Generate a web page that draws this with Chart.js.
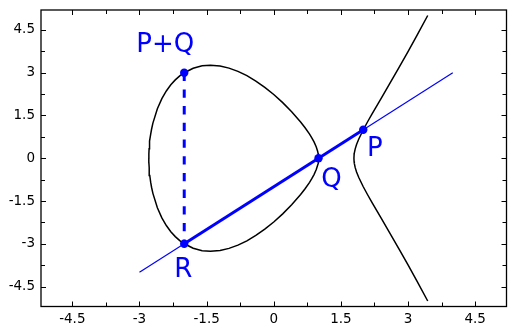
<!DOCTYPE html>
<html>
<head>
<meta charset="utf-8">
<script src="https://cdn.jsdelivr.net/npm/chart.js@4/dist/chart.umd.min.js"></script>
<style>
html,body{margin:0;padding:0;background:#fff;}
canvas{display:block;}
</style>
</head>
<body>
<canvas id="c" width="515" height="332"></canvas>
<script>
// Axis range and tick spacing
const axisMin = -5.2;
const axisMax = 5.2;
const tickStep = 0.75;
const labelStep = 1.5;

// Oval (closed component) of the curve
const ovalX     = [-2.7913, -2.79, -2.785, -2.78, -2.77, -2.75, -2.73, -2.7, -2.6, -2.5, -2.4, -2.3, -2.2, -2.1, -2.0, -1.8, -1.6, -1.414, -1.2, -1.0, -0.8, -0.6, -0.4, -0.2, 0.0, 0.2, 0.4, 0.6, 0.7, 0.8, 0.85, 0.9, 0.95, 0.98, 0.99, 0.995, 1.0];
const ovalUpper = [0, 0.150, 0.330, 0.442, 0.605, 0.838, 1.017, 1.232, 1.739, 2.092, 2.361, 2.575, 2.748, 2.888, 3.0, 3.157, 3.241, 3.265, 3.236, 3.162, 3.048, 2.896, 2.709, 2.488, 2.236, 1.951, 1.632, 1.271, 1.069, 0.844, 0.717, 0.574, 0.397, 0.247, 0.174, 0.122, 0];
const ovalLower = [0, -0.150, -0.330, -0.442, -0.605, -0.838, -1.017, -1.232, -1.739, -2.092, -2.361, -2.575, -2.748, -2.888, -3.0, -3.157, -3.241, -3.265, -3.236, -3.162, -3.048, -2.896, -2.709, -2.488, -2.236, -1.951, -1.632, -1.271, -1.069, -0.844, -0.717, -0.574, -0.397, -0.247, -0.174, -0.122, 0];

// Unbounded branch of the curve
const branchX     = [1.7913, 1.795, 1.8, 1.82, 1.85, 1.9, 2.0, 2.1, 2.2, 2.4, 2.6, 2.8, 3.0, 3.2, 3.44];
const branchUpper = [0, 0.116, 0.179, 0.330, 0.481, 0.677, 1.0, 1.289, 1.565, 2.103, 2.641, 3.186, 3.742, 4.309, 5.007];
const branchLower = [0, -0.116, -0.179, -0.330, -0.481, -0.677, -1.0, -1.289, -1.565, -2.103, -2.641, -3.186, -3.742, -4.309, -5.007];

// Secant line through P and Q
const lineX = [-3, 4];
const lineY = [-4, 3];
// Thick segment R -> P
const segX = [-2, 2];
const segY = [-3, 1];
// Dashed vertical from P+Q down to R
const dashX = [-2, -2];
const dashY = [3, -3];

// Marked points
const pointLabels = ['P', 'Q', 'R', 'P+Q'];
const pointX = [2, 1, -2, -2];
const pointY = [1, 0, -3, 3];
// label offsets in pixels (style)
const labelDX = [11.5, 13, -1, -19];
const labelDY = [26.5, 29, 33.5, -20.5];

function zip(xs, ys) { return xs.map((x, i) => ({x: x, y: ys[i]})); }

const ovalData = zip(ovalX, ovalUpper).concat(zip(ovalX.slice().reverse(), ovalLower.slice().reverse()));
const branchData = zip(branchX.slice().reverse(), branchUpper.slice().reverse()).concat(zip(branchX.slice(1), branchLower.slice(1)));

const frameAndTicks = {
  id: 'frameAndTicks',
  afterDraw(chart) {
    const ctx = chart.ctx;
    const a = chart.chartArea;
    const xs = chart.scales.x, ys = chart.scales.y;
    ctx.save();
    ctx.strokeStyle = '#000';
    ctx.lineWidth = 1;
    xs.ticks.forEach(t => {
      const px = Math.round(xs.getPixelForValue(t.value)) + 0.5;
      const major = Math.abs(Math.round(t.value / labelStep) * labelStep - t.value) < 1e-6;
      const len = major ? 5 : 4;
      ctx.beginPath();
      ctx.moveTo(px, a.bottom); ctx.lineTo(px, a.bottom - len);
      ctx.moveTo(px, a.top); ctx.lineTo(px, a.top + len);
      ctx.stroke();
    });
    ys.ticks.forEach(t => {
      const py = Math.round(ys.getPixelForValue(t.value)) + 0.5;
      const major = Math.abs(Math.round(t.value / labelStep) * labelStep - t.value) < 1e-6;
      const len = major ? 5 : 4;
      ctx.beginPath();
      ctx.moveTo(a.left, py); ctx.lineTo(a.left + len, py);
      ctx.moveTo(a.right, py); ctx.lineTo(a.right - len, py);
      ctx.stroke();
    });
    ctx.lineWidth = 1.3;
    ctx.strokeRect(a.left, a.top, a.right - a.left, a.bottom - a.top);
    // point labels
    ctx.fillStyle = '#0000ff';
    ctx.font = '26px "DejaVu Sans"';
    ctx.textAlign = 'center';
    ctx.textBaseline = 'alphabetic';
    pointLabels.forEach((lab, i) => {
      const px = xs.getPixelForValue(pointX[i]) + labelDX[i];
      const py = ys.getPixelForValue(pointY[i]) + labelDY[i];
      ctx.fillText(lab, px, py);
    });
    ctx.restore();
  }
};

function tickLabel(v) {
  const k = Math.round(v / labelStep);
  if (Math.abs(k * labelStep - v) > 1e-6) return '';
  const r = Math.round(v * 10) / 10;
  return String(r);
}

new Chart(document.getElementById('c'), {
  type: 'scatter',
  data: {
    datasets: [
      { data: zip(pointX, pointY), showLine: false, pointRadius: 4.2, pointBackgroundColor: '#0000ff', pointBorderWidth: 0, order: 0 },
      { data: zip(segX, segY), showLine: true, borderColor: '#0000ff', borderWidth: 3, pointRadius: 0, order: 1 },
      { data: zip(dashX, dashY), showLine: true, borderColor: '#0000ff', borderWidth: 3, borderDash: [8.3, 8.4], borderCapStyle: 'butt', pointRadius: 0, order: 2 },
      { data: zip(lineX, lineY), showLine: true, borderColor: '#0000ff', borderWidth: 1.2, pointRadius: 0, order: 3 },
      { data: ovalData, showLine: true, borderColor: '#000', borderWidth: 1.5, pointRadius: 0, tension: 0, order: 4 },
      { data: branchData, showLine: true, borderColor: '#000', borderWidth: 1.5, pointRadius: 0, tension: 0, order: 4 }
    ]
  },
  options: {
    responsive: false,
    animation: false,
    devicePixelRatio: 1,
    layout: { padding: { top: 10, right: 8.5, left: 0, bottom: 0 } },
    plugins: { legend: { display: false }, tooltip: { enabled: false } },
    scales: {
      x: {
        type: 'linear', min: axisMin, max: axisMax,
        grid: { display: false, drawTicks: false },
        border: { display: false },
        ticks: { stepSize: tickStep, includeBounds: false, autoSkip: false, maxRotation: 0, padding: 5, color: '#000', font: { family: 'DejaVu Sans', size: 13.5 }, callback: tickLabel },
        afterFit(s) { s.height = 25.5; s.paddingLeft = 0; s.paddingRight = 0; }
      },
      y: {
        type: 'linear', min: axisMin, max: axisMax,
        grid: { display: false, drawTicks: false },
        border: { display: false },
        ticks: { stepSize: tickStep, includeBounds: false, autoSkip: false, padding: 6, color: '#000', font: { family: 'DejaVu Sans', size: 13.5 }, callback: tickLabel },
        afterFit(s) { s.width = 41; s.paddingTop = 0; s.paddingBottom = 0; }
      }
    }
  },
  plugins: [frameAndTicks]
});
</script>
</body>
</html>
